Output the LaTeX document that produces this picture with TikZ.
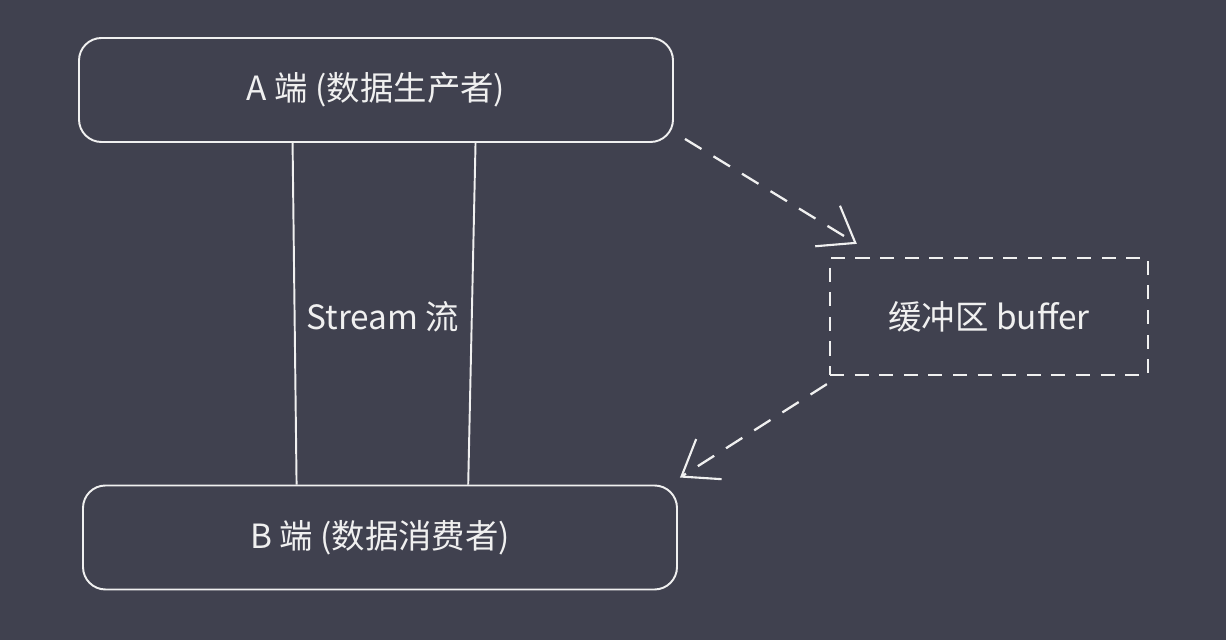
\documentclass[tikz,border=0pt]{standalone}
\usepackage{fontspec}
\setmainfont{Noto Sans CJK SC}
\usetikzlibrary{arrows.meta,calc}
\definecolor{bgdark}{RGB}{64,65,79}
\definecolor{chalk}{RGB}{240,240,240}

\begin{document}
\begin{tikzpicture}[>={Straight Barb[length=0.65cm,width=0.95cm,line width=1.2pt]},
  endbox/.style={draw=chalk,line width=1.1pt,rounded corners=0.45cm,
    minimum width=11.88cm,minimum height=2.08cm,text=chalk,font=\fontsize{19}{22}\selectfont},
  bufbox/.style={draw=chalk,line width=1.3pt,dash pattern=on 8pt off 6pt,
    minimum width=6.36cm,minimum height=2.34cm,text=chalk,font=\fontsize{19}{22}\selectfont},
  flow/.style={draw=chalk,line width=1.3pt,dash pattern=on 11pt off 8pt,->}]
  \fill[bgdark] (0,0) rectangle (24.52,12.8);
  \useasboundingbox (0,0) rectangle (24.52,12.8);
  \node[endbox] (producer) at (7.52,11.0) {A 端 (数据生产者)};
  \node[endbox] (consumer) at (7.6,2.05) {B 端 (数据消费者)};
  \node[bufbox] (buffer) at (19.78,6.47) {缓冲区 buffer};
  % stream
  \draw[chalk,line width=1.1pt] ($(producer.south west)!0.36!(producer.south east)$) -- ($(consumer.north west)!0.36!(consumer.north east)$);
  \draw[chalk,line width=1.1pt] ($(producer.south west)!0.667!(producer.south east)$) -- ($(consumer.north west)!0.648!(consumer.north east)$);
  \node[text=chalk,font=\fontsize{19}{22}\selectfont] (stream) at (7.66,6.46) {Stream 流};
  % buffer
  \draw[flow] ([xshift=0.22cm,yshift=0.08cm]producer.south east) -- ([xshift=0.56cm,yshift=0.26cm]buffer.north west);
  \draw[flow] ([xshift=-0.04cm,yshift=-0.16cm]buffer.south west) -- ([xshift=0.04cm,yshift=0.14cm]consumer.north east);
\end{tikzpicture}
\end{document}
